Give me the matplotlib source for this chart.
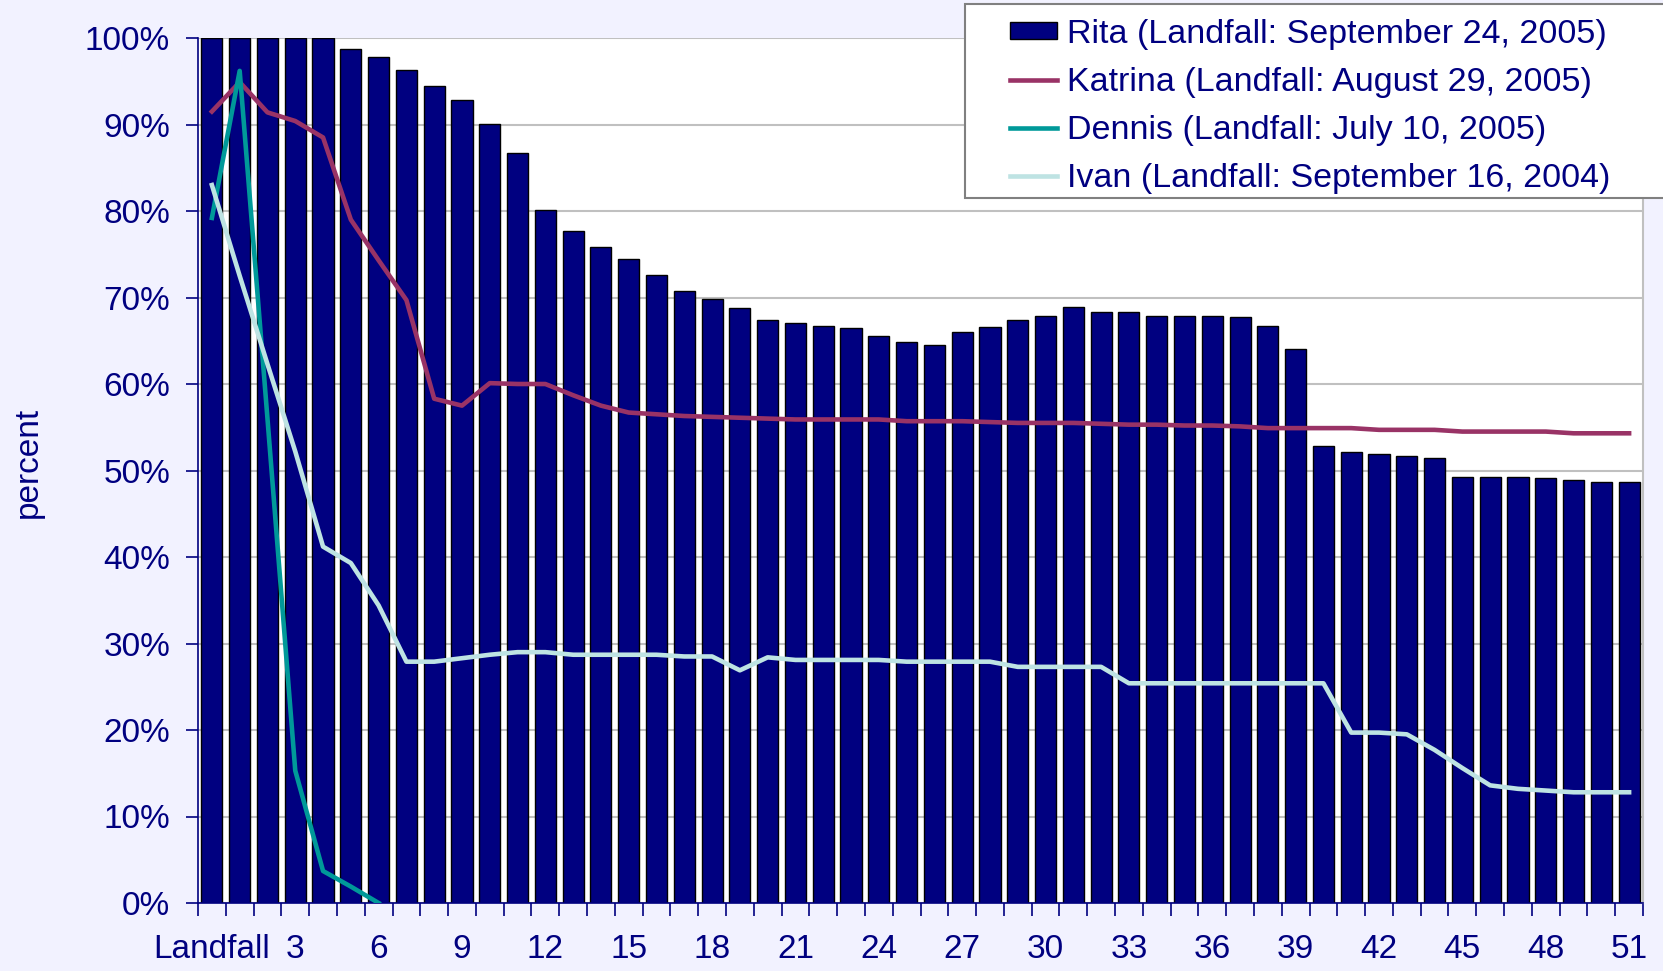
import numpy as np
import matplotlib.pyplot as plt
from matplotlib.patches import Rectangle

# dias depois do landfall (0 = Landfall)
days = list(range(52))
tick_pos = list(range(0, 52, 3))
tick_labels = ['Landfall'] + [str(d) for d in tick_pos[1:]]

rita = [100, 100, 100, 100, 100, 98.7, 97.8, 96.3, 94.5, 92.8,
        90.1, 86.7, 80.1, 77.7, 75.8, 74.4, 72.6, 70.8, 69.8, 68.8,
        67.4, 67.1, 66.7, 66.5, 65.5, 64.9, 64.5, 66.0, 66.6, 67.4,
        67.9, 68.9, 68.3, 68.3, 67.9, 67.9, 67.9, 67.7, 66.7, 64.0,
        52.8, 52.1, 51.9, 51.7, 51.5, 49.3, 49.3, 49.3, 49.1, 48.9,
        48.7, 48.7]
katrina = [91.5, 94.9, 91.4, 90.4, 88.5, 79.0, 74.3, 69.7, 58.3, 57.5,
           60.1, 60.0, 60.0, 58.7, 57.5, 56.7, 56.5, 56.3, 56.2, 56.1,
           56.0, 55.9, 55.9, 55.9, 55.9, 55.7, 55.7, 55.7, 55.6, 55.5,
           55.5, 55.5, 55.4, 55.3, 55.3, 55.2, 55.2, 55.1, 54.9, 54.9,
           54.9, 54.9, 54.7, 54.7, 54.7, 54.5, 54.5, 54.5, 54.5, 54.3,
           54.3, 54.3]
dennis = [79.2, 96.2, 56.0, 15.3, 3.7, 1.9, 0.0]
ivan = [83.0, 72.5, 62.3, 52.2, 41.2, 39.3, 34.4, 27.9, 27.9, 28.3,
        28.7, 29.0, 29.0, 28.7, 28.7, 28.7, 28.7, 28.5, 28.5, 26.9,
        28.4, 28.1, 28.1, 28.1, 28.1, 27.9, 27.9, 27.9, 27.9, 27.3,
        27.3, 27.3, 27.3, 25.4, 25.4, 25.4, 25.4, 25.4, 25.4, 25.4,
        25.4, 19.7, 19.7, 19.5, 17.7, 15.6, 13.6, 13.2, 13.0, 12.8,
        12.8, 12.8]

navy = '#000080'
bg = '#F2F2FF'
plt.rcParams['font.family'] = ['Liberation Sans', 'DejaVu Sans']

W, H = 1663, 971
fig = plt.figure(figsize=(W / 100, H / 100), dpi=100, facecolor=bg)
ax = fig.add_axes([198 / W, 1 - 903 / H, (1643 - 198) / W, (903 - 38) / H])
ax.set_facecolor('white')

# barras e linhas
ax.bar(days, rita, width=0.76, color=navy, edgecolor='black', linewidth=1.0,
       label='Rita (Landfall: September 24, 2005)', zorder=2)
ax.plot(days, katrina, color='#993366', lw=3.3, label='Katrina (Landfall: August 29, 2005)', zorder=3)
ax.plot(days[:len(dennis)], dennis, color='#009999', lw=3.3, label='Dennis (Landfall: July 10, 2005)', zorder=3)
ax.plot(days, ivan, color='#BEE3E3', lw=3.3, label='Ivan (Landfall: September 16, 2004)', zorder=3)

ax.set_xlim(-0.5, 51.5)
ax.set_ylim(0, 100)
ax.set_yticks(range(0, 101, 10))
ax.set_yticklabels([f'{v}%' for v in range(0, 101, 10)])
ax.yaxis.grid(True, color='#C0C0C0', lw=1.5, zorder=0)
ax.set_axisbelow(True)

ax.set_xticks(tick_pos)
ax.set_xticklabels(tick_labels)
ax.set_xticks(np.arange(-0.5, 52, 1), minor=True)
ax.tick_params(axis='x', which='major', length=0, pad=22, labelsize=24, labelcolor=navy)
ax.tick_params(axis='x', which='minor', length=9, width=1.2, color=navy, direction='out')
ax.tick_params(axis='y', length=9, width=1.2, color=navy, direction='out', pad=11,
               labelsize=24, labelcolor=navy)

ax.spines['left'].set_color(navy)
ax.spines['bottom'].set_color(navy)
ax.spines['left'].set_linewidth(1.2)
ax.spines['bottom'].set_linewidth(1.2)
ax.spines['top'].set_visible(False)
ax.spines['right'].set_color('#C0C0C0')
ax.spines['right'].set_linewidth(1.5)

ax.set_ylabel('percent', fontsize=24, color=navy)
ax.yaxis.set_label_coords(-0.107, 0.509)

# caixa da legenda
box = Rectangle((965 / W, 1 - 198 / H), 1 - 965 / W + 0.01, (198 - 4) / H,
                transform=fig.transFigure, facecolor='white', edgecolor='#808080',
                lw=1.5, zorder=5)
fig.patches.append(box)
handles, labels = ax.get_legend_handles_labels()
order = [3, 0, 1, 2]
leg = fig.legend([handles[i] for i in order], [labels[i] for i in order],
                 loc='upper left', bbox_to_anchor=(1003 / W, 1 - 12 / H),
                 frameon=False, fontsize=24.5, labelcolor=navy, handlelength=1.38,
                 handleheight=0.42, handletextpad=0.3, labelspacing=0.5,
                 borderpad=0.2, borderaxespad=0)
leg.set_zorder(10)

plt.savefig('out.png', dpi=100, facecolor=bg)
